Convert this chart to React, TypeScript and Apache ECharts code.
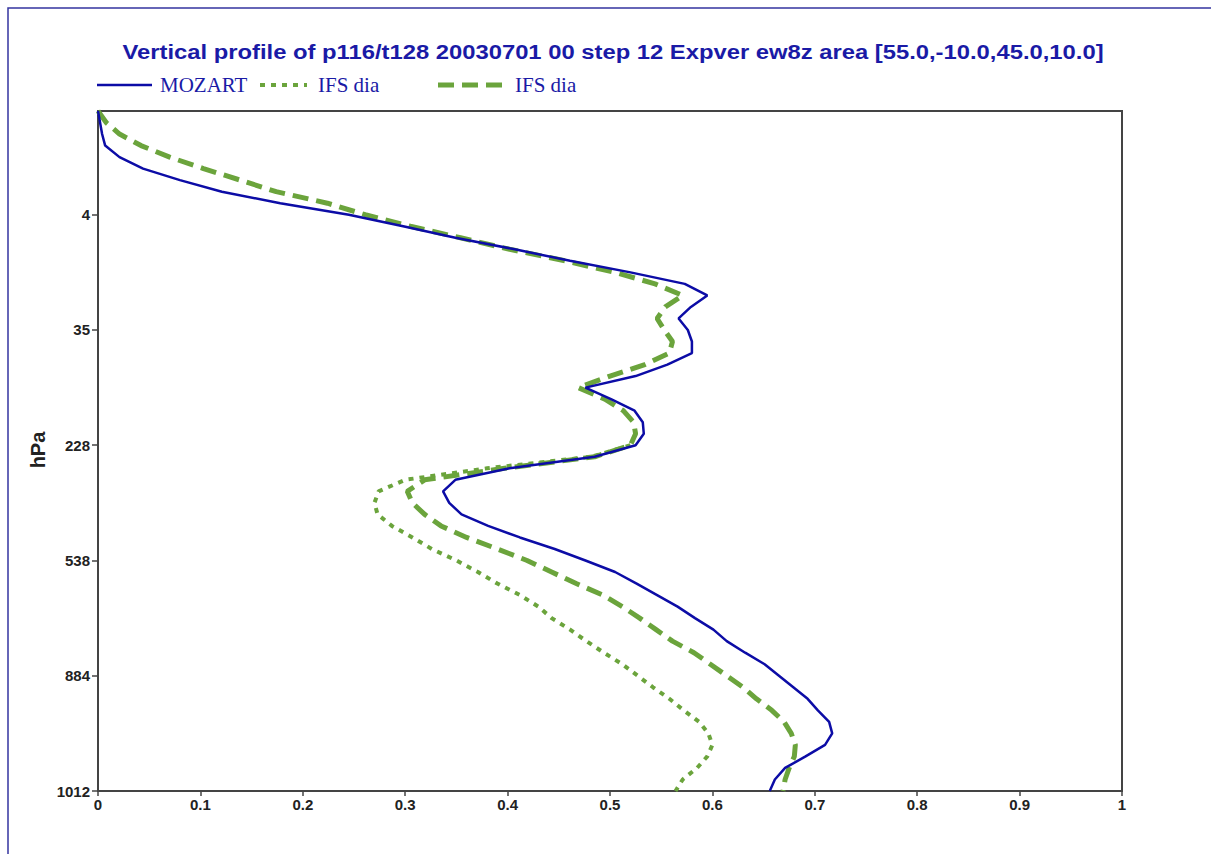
import React, { useEffect, useRef } from "react";
import * as echarts from "echarts";

// Model levels 1..60 (top to surface)
const levels: string[] = Array.from({ length: 60 }, (_, i) => String(i + 1));
// Levels that carry a pressure label and the label text (hPa)
const tickLevels = [10, 20, 30, 40, 50, 60];
const tickLabels = ["4", "35", "228", "538", "884", "1012"];

const titleText =
  "Vertical profile of p116/t128 20030701 00 step 12 Expver ew8z area [55.0,-10.0,45.0,10.0]";
const seriesNames = ["MOZART", "IFS dia", "IFS dia"];

const mozart = [
  0, 0.002, 0.004, 0.007, 0.021, 0.044, 0.08, 0.121, 0.178, 0.245,
  0.298, 0.349, 0.407, 0.461, 0.52, 0.573, 0.595, 0.579, 0.567, 0.576,
  0.58, 0.58, 0.556, 0.525, 0.476, 0.501, 0.524, 0.532, 0.533, 0.525,
  0.485, 0.402, 0.349, 0.337, 0.343, 0.355, 0.381, 0.412, 0.446, 0.476,
  0.505, 0.526, 0.546, 0.566, 0.583, 0.601, 0.614, 0.632, 0.651, 0.665,
  0.679, 0.693, 0.703, 0.714, 0.717, 0.71, 0.691, 0.671, 0.661, 0.656,
];

// Upper levels coincide with the dashed IFS profile and are hidden beneath it
const ifsDotted = [
  null, null, null, null, null, null, null, null, null, null,
  null, null, null, null, null, null, null, null, null, null,
  null, null, null, null, null, null, null, null, null, 0.52,
  0.482, 0.38, 0.3, 0.274, 0.27, 0.273, 0.287, 0.307, 0.326, 0.35,
  0.371, 0.39, 0.412, 0.43, 0.443, 0.461, 0.477, 0.494, 0.512, 0.527,
  0.542, 0.558, 0.572, 0.587, 0.596, 0.6, 0.595, 0.585, 0.571, 0.564,
];

const ifsDashed = [
  0, 0.008, 0.021, 0.042, 0.07, 0.103, 0.139, 0.174, 0.224, 0.261,
  0.305, 0.354, 0.402, 0.456, 0.505, 0.544, 0.571, 0.554, 0.546, 0.553,
  0.561, 0.558, 0.534, 0.5, 0.469, 0.495, 0.513, 0.523, 0.525, 0.52,
  0.485, 0.397, 0.319, 0.302, 0.307, 0.319, 0.335, 0.36, 0.39, 0.419,
  0.443, 0.467, 0.493, 0.512, 0.529, 0.545, 0.561, 0.582, 0.598, 0.614,
  0.63, 0.643, 0.658, 0.67, 0.677, 0.681, 0.68, 0.675, 0.671, 0.669,
];

const BLUE = "#0c0ca6";
const GREEN = "#6ba43c";
const TEXT_BLUE = "#1a1aa6";
const AXIS = "#444444";

export default function App() {
  const ref = useRef<HTMLDivElement>(null);

  useEffect(() => {
    if (!ref.current) return;
    const chart = echarts.init(ref.current, null, { renderer: "svg" });
    const showLabel = (index: number) => tickLevels.includes(index + 1);

    const legendY = 85;
    chart.setOption({
      animation: false,
      backgroundColor: "#ffffff",
      grid: {
        left: 98,
        right: 89,
        top: 111,
        bottom: 63,
        show: true,
        borderColor: AXIS,
        borderWidth: 2,
        backgroundColor: "transparent",
      },
      xAxis: {
        type: "value",
        min: 0,
        max: 1,
        interval: 0.1,
        splitLine: { show: false },
        axisLine: { show: true, lineStyle: { color: AXIS, width: 2 } },
        axisTick: { show: true, length: 5, lineStyle: { color: AXIS, width: 1.5 } },
        axisLabel: {
          margin: 6,
          color: "#222",
          fontWeight: "bold",
          fontSize: 15,
          fontFamily: "Liberation Sans, Arial, sans-serif",
        },
      },
      yAxis: {
        type: "category",
        data: levels,
        inverse: true,
        boundaryGap: false,
        splitLine: { show: false },
        axisLine: { show: true, lineStyle: { color: AXIS, width: 2 } },
        axisTick: {
          show: true,
          length: 6,
          interval: showLabel,
          lineStyle: { color: AXIS, width: 1.5 },
        },
        axisLabel: {
          interval: showLabel,
          margin: 8,
          color: "#222",
          fontWeight: "bold",
          fontSize: 15,
          fontFamily: "Liberation Sans, Arial, sans-serif",
          formatter: (value: string) => {
            const i = tickLevels.indexOf(Number(value));
            return i >= 0 ? tickLabels[i] : "";
          },
        },
      },
      series: [
        {
          name: seriesNames[1],
          type: "line",
          data: ifsDotted,
          showSymbol: false,
          symbol: "none",
          connectNulls: false,
          lineStyle: { color: GREEN, width: 4, type: [5, 6], cap: "butt" },
          z: 2,
        },
        {
          name: seriesNames[2],
          type: "line",
          data: ifsDashed,
          showSymbol: false,
          symbol: "none",
          lineStyle: { color: GREEN, width: 5, type: [16, 8], cap: "butt" },
          z: 3,
        },
        {
          name: seriesNames[0],
          type: "line",
          data: mozart,
          showSymbol: false,
          symbol: "none",
          lineStyle: { color: BLUE, width: 2.5 },
          z: 4,
        },
      ],
      graphic: [
        {
          type: "rect",
          silent: true,
          shape: { x: 8, y: 8, width: 1300, height: 900 },
          style: { fill: "none", stroke: "#3535a0", lineWidth: 1.5 },
        },
        {
          type: "text",
          x: 613,
          y: 52,
          scaleX: 1.19,
          style: {
            text: titleText,
            x: 0,
            y: 0,
            align: "center",
            verticalAlign: "middle",
            fill: TEXT_BLUE,
            font: "bold 20px 'Liberation Sans', Arial, sans-serif",
          },
        },
        {
          type: "text",
          x: 38,
          y: 450,
          rotation: Math.PI / 2,
          style: {
            text: "hPa",
            x: 0,
            y: 0,
            align: "center",
            verticalAlign: "middle",
            fill: "#222",
            font: "bold 20px 'Liberation Sans', Arial, sans-serif",
          },
        },
        // legend
        {
          type: "line",
          shape: { x1: 97, y1: legendY, x2: 152, y2: legendY },
          style: { stroke: BLUE, lineWidth: 2.5 },
        },
        {
          type: "text",
          x: 160,
          y: legendY,
          style: {
            text: seriesNames[0],
            align: "left",
            verticalAlign: "middle",
            fill: TEXT_BLUE,
            font: "21px 'Liberation Serif', 'Times New Roman', serif",
          },
        },
        {
          type: "line",
          shape: { x1: 260, y1: legendY, x2: 307, y2: legendY },
          style: { stroke: GREEN, lineWidth: 4, lineDash: [5, 6] },
        },
        {
          type: "text",
          x: 318,
          y: legendY,
          style: {
            text: seriesNames[1],
            align: "left",
            verticalAlign: "middle",
            fill: TEXT_BLUE,
            font: "21px 'Liberation Serif', 'Times New Roman', serif",
          },
        },
        {
          type: "line",
          shape: { x1: 438, y1: legendY, x2: 505, y2: legendY },
          style: { stroke: GREEN, lineWidth: 5, lineDash: [16, 8] },
        },
        {
          type: "text",
          x: 515,
          y: legendY,
          style: {
            text: seriesNames[2],
            align: "left",
            verticalAlign: "middle",
            fill: TEXT_BLUE,
            font: "21px 'Liberation Serif', 'Times New Roman', serif",
          },
        },
      ],
    });
    return () => chart.dispose();
  }, []);

  return (
    <div
      ref={ref}
      style={{ position: "fixed", left: 0, top: 0, width: 1211, height: 854, background: "#fff" }}
    />
  );
}
